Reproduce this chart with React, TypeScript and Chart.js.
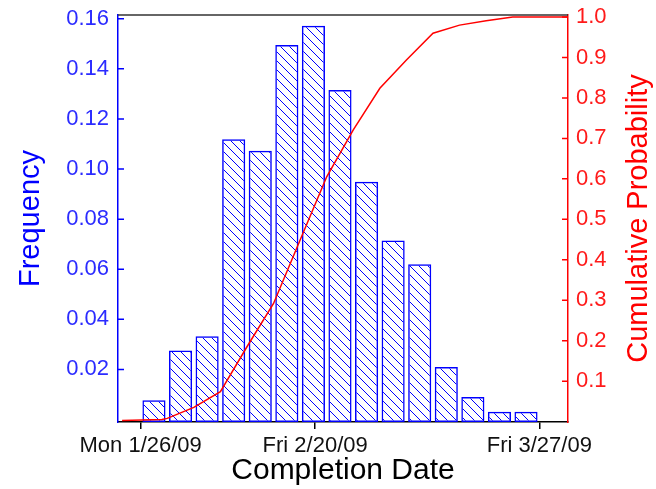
import React, { useEffect, useRef } from 'react';
import { Chart, registerables } from 'chart.js';

Chart.register(...registerables);

// ---- data (x in working days from Mon 1/26/09) ----
const binCenters = [1.5, 4.5, 7.5, 10.5, 13.5, 16.5, 19.5, 22.5, 25.5, 28.5, 31.5, 34.5, 37.5, 40.5, 43.5];
const frequency = [0.0077, 0.0275, 0.0332, 0.1119, 0.1073, 0.1495, 0.1572, 0.1316, 0.0949, 0.0715, 0.062, 0.021, 0.009, 0.0031, 0.0031];

const cumX = [-2.1, 2.4, 3, 6, 9, 12, 15, 18, 21, 24, 27, 30, 33, 36, 39, 42, 48.2];
const cumProb = [0.003, 0.005, 0.008, 0.035, 0.074, 0.185, 0.292, 0.449, 0.605, 0.721, 0.824, 0.894, 0.96, 0.98, 0.991, 1.0, 1.0];

const xTickValues = [0, 19.7, 45];
const xTickLabels = ['Mon 1/26/09', 'Fri 2/20/09', 'Fri 3/27/09'];

const leftTickValues = [0.02, 0.04, 0.06, 0.08, 0.1, 0.12, 0.14, 0.16];
const leftTickLabels = ['0.02', '0.04', '0.06', '0.08', '0.10', '0.12', '0.14', '0.16'];

const rightTickValues = [0.1, 0.2, 0.3, 0.4, 0.5, 0.6, 0.7, 0.8, 0.9, 1.0];
const rightTickLabels = ['0.1', '0.2', '0.3', '0.4', '0.5', '0.6', '0.7', '0.8', '0.9', '1.0'];

const xTitle = 'Completion Date';
const leftTitle = 'Frequency';
const rightTitle = 'Cumulative Probability';

// ---- axis ranges ----
const X_MIN = -2.56;
const X_MAX = 48.24;
const LEFT_MIN = -0.001;
const LEFT_MAX = 0.1615;
const RIGHT_MIN = -0.001;
const RIGHT_MAX = 1.005;

const FONT = "'Liberation Sans', Arial, sans-serif";
const BLUE = '#0000ff';
const RED = '#ff0000';

function makeHatch(): CanvasPattern | string {
  const c = document.createElement('canvas');
  const s = 9;
  c.width = s;
  c.height = s;
  const g = c.getContext('2d');
  if (!g) return 'rgba(0,0,255,0.2)';
  g.strokeStyle = BLUE;
  g.lineWidth = 1;
  g.beginPath();
  g.moveTo(0, 0);
  g.lineTo(s, s);
  g.moveTo(-1, s - 1);
  g.lineTo(1, s + 1);
  g.moveTo(s - 1, -1);
  g.lineTo(s + 1, 1);
  g.stroke();
  const p = g.createPattern(c, 'repeat');
  return p || 'rgba(0,0,255,0.2)';
}

const axisDecor = {
  id: 'axisDecor',
  afterDraw(chart: any) {
    const { ctx, chartArea: a, scales } = chart;
    ctx.save();
    // top frame line
    ctx.strokeStyle = '#333';
    ctx.lineWidth = 1.5;
    ctx.beginPath();
    ctx.moveTo(a.left, a.top);
    ctx.lineTo(a.right, a.top);
    ctx.stroke();
    // inward ticks on left axis
    ctx.strokeStyle = BLUE;
    ctx.lineWidth = 1.5;
    ctx.beginPath();
    leftTickValues.forEach((v) => {
      const y = scales.y.getPixelForValue(v);
      ctx.moveTo(a.left, y);
      ctx.lineTo(a.left + 6, y);
    });
    ctx.stroke();
    // inward ticks on right axis
    ctx.strokeStyle = RED;
    ctx.beginPath();
    rightTickValues.forEach((v) => {
      const y = scales.y1.getPixelForValue(v);
      ctx.moveTo(a.right, y);
      ctx.lineTo(a.right - 6, y);
    });
    ctx.stroke();
    // right title, reading bottom to top
    ctx.translate(639, (a.top + a.bottom) / 2);
    ctx.rotate(-Math.PI / 2);
    ctx.fillStyle = RED;
    ctx.font = `29px ${FONT}`;
    ctx.textAlign = 'center';
    ctx.textBaseline = 'middle';
    ctx.fillText(rightTitle, 0, 0);
    ctx.restore();
  },
};

export default function App() {
  const ref = useRef<HTMLCanvasElement | null>(null);

  useEffect(() => {
    if (!ref.current) return;
    const hatch = makeHatch();
    const chart = new Chart(ref.current, {
      type: 'bar',
      data: {
        datasets: [
          {
            type: 'line',
            label: 'Cumulative',
            data: cumX.map((x, i) => ({ x, y: cumProb[i] })),
            yAxisID: 'y1',
            xAxisID: 'x',
            borderColor: RED,
            borderWidth: 1.5,
            pointRadius: 0,
            tension: 0,
            fill: false,
            order: 0,
          } as any,
          {
            type: 'bar',
            label: 'Frequency',
            data: binCenters.map((x, i) => ({ x, y: frequency[i] })),
            yAxisID: 'y',
            xAxisID: 'x',
            backgroundColor: hatch as any,
            borderColor: BLUE,
            borderWidth: 1.5,
            borderSkipped: false,
            base: LEFT_MIN,
            categoryPercentage: 1,
            barPercentage: 0.87,
            order: 1,
          } as any,
        ],
      },
      options: {
        responsive: false,
        animation: false,
        layout: { padding: { top: 15, left: 0, right: 0, bottom: 0 } },
        plugins: { legend: { display: false }, tooltip: { enabled: false } },
        scales: {
          x: {
            type: 'linear',
            position: 'bottom',
            min: X_MIN,
            max: X_MAX,
            offset: false,
            bounds: 'data',
            afterBuildTicks: (s: any) => {
              s.ticks = xTickValues.map((v) => ({ value: v }));
            },
            afterFit: (s: any) => {
              s.height = 67;
              s.paddingLeft = 0;
              s.paddingRight = 0;
              s.paddingTop = 0;
              s.paddingBottom = 0;
            },
            grid: {
              display: true,
              drawOnChartArea: false,
              drawTicks: true,
              tickLength: 7,
              color: '#000',
              lineWidth: 1.5,
              offset: false,
            },
            border: { display: true, color: '#000', width: 1.5 },
            ticks: {
              autoSkip: false,
              maxRotation: 0,
              minRotation: 0,
              padding: 4,
              color: '#111',
              font: { family: FONT, size: 22 },
              callback: (_v: any, i: number) => xTickLabels[i],
            },
            title: {
              display: true,
              text: xTitle,
              color: '#000',
              font: { family: FONT, size: 30, lineHeight: 1.2 },
              padding: { top: 0, bottom: 0 },
            },
          } as any,
          y: {
            type: 'linear',
            position: 'left',
            min: LEFT_MIN,
            max: LEFT_MAX,
            bounds: 'data',
            afterBuildTicks: (s: any) => {
              s.ticks = leftTickValues.map((v) => ({ value: v }));
            },
            afterFit: (s: any) => {
              s.width = 118;
              s.paddingTop = 0;
              s.paddingBottom = 0;
              s.paddingLeft = 0;
              s.paddingRight = 0;
            },
            grid: { display: false, drawTicks: false },
            border: { display: true, color: BLUE, width: 1.5 },
            ticks: {
              autoSkip: false,
              padding: 9,
              color: '#2b2bff',
              font: { family: FONT, size: 22 },
              callback: (_v: any, i: number) => leftTickLabels[i],
            },
            title: {
              display: true,
              text: leftTitle,
              color: BLUE,
              font: { family: FONT, size: 29, lineHeight: 1.2 },
              padding: { top: 14, bottom: 0 },
            },
          } as any,
          y1: {
            type: 'linear',
            position: 'right',
            min: RIGHT_MIN,
            max: RIGHT_MAX,
            bounds: 'data',
            afterBuildTicks: (s: any) => {
              s.ticks = rightTickValues.map((v) => ({ value: v }));
            },
            afterFit: (s: any) => {
              s.width = 88;
              s.paddingTop = 0;
              s.paddingBottom = 0;
              s.paddingLeft = 0;
              s.paddingRight = 0;
            },
            grid: { display: false, drawTicks: false },
            border: { display: true, color: RED, width: 1.5 },
            ticks: {
              autoSkip: false,
              padding: 8,
              color: '#ff1a1a',
              font: { family: FONT, size: 22 },
              callback: (_v: any, i: number) => rightTickLabels[i],
            },
          } as any,
        },
      },
      plugins: [axisDecor as any],
    });
    return () => chart.destroy();
  }, []);

  return (
    <div style={{ position: 'absolute', left: 0, top: 0, width: 656, height: 489, background: '#fff' }}>
      <canvas ref={ref} width={656} height={489} style={{ display: 'block', width: 656, height: 489 }} />
    </div>
  );
}
